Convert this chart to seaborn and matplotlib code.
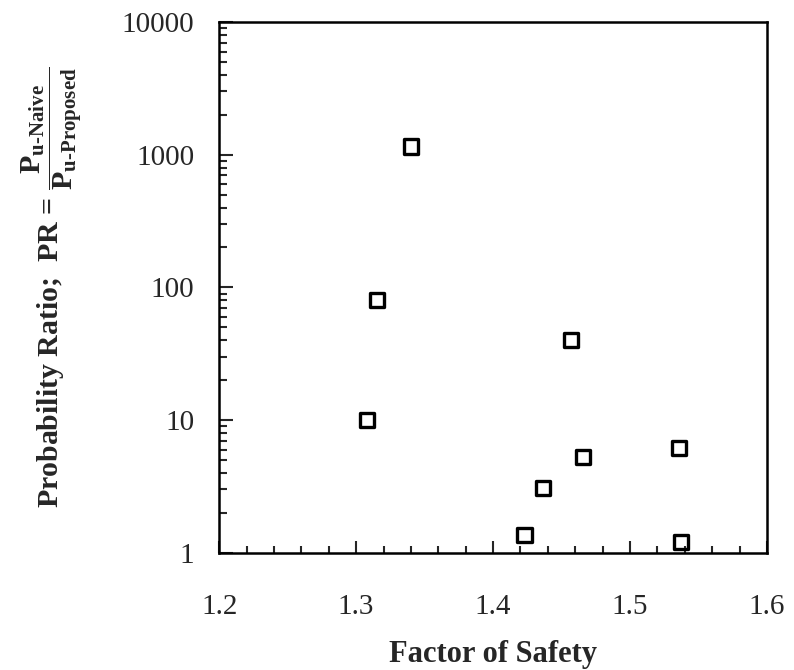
import numpy as np
import pandas as pd
import matplotlib
matplotlib.use("Agg")
import matplotlib.pyplot as plt
import matplotlib.ticker as mticker
import seaborn as sns

# values
factor_of_safety = [1.308, 1.3155, 1.340, 1.4229, 1.4366, 1.4567, 1.4658, 1.5358, 1.5372]
probability_ratio = [10.0, 80.0, 1155.0, 1.36, 3.07, 40.0, 5.27, 6.15, 1.2]
x_ticks = [1.2, 1.3, 1.4, 1.5, 1.6]
y_ticks = [1, 10, 100, 1000, 10000]

df = pd.DataFrame({'fos': factor_of_safety, 'pr': probability_ratio})

sns.set_style('ticks')
plt.rcParams['font.family'] = ['Liberation Serif', 'DejaVu Serif']
plt.rcParams['mathtext.fontset'] = 'custom'
plt.rcParams['mathtext.rm'] = 'Liberation Serif'
plt.rcParams['mathtext.bf'] = 'Liberation Serif:bold'
plt.rcParams['mathtext.it'] = 'Liberation Serif:italic'

fig = plt.figure(figsize=(7.94, 6.70), dpi=100)
ax = fig.add_axes([0.276, 0.175, 0.690, 0.792])

sns.scatterplot(data=df, x='fos', y='pr', ax=ax, marker='s', s=105,
                facecolor='none', edgecolor='black', linewidth=2.4, zorder=3)

ax.set_yscale('log')
ax.set_xlim(1.2, 1.6)
ax.set_ylim(1, 10000)
ax.set_xticks(x_ticks)
ax.set_yticks(y_ticks)
ax.xaxis.set_major_formatter(mticker.FuncFormatter(lambda v, p: f'{v:.1f}'))
ax.yaxis.set_major_formatter(mticker.FuncFormatter(lambda v, p: f'{v:g}'))
ax.xaxis.set_minor_locator(mticker.MultipleLocator(0.02))
ax.yaxis.set_minor_locator(mticker.LogLocator(base=10, subs=np.arange(2, 10)))
ax.yaxis.set_minor_formatter(mticker.NullFormatter())

ax.tick_params(which='both', direction='in', top=False, right=False,
               labelsize=21, width=1.5)
ax.tick_params(axis='x', which='major', length=9, pad=30)
ax.tick_params(axis='x', which='minor', length=5)
ax.tick_params(axis='y', which='major', length=10, pad=18)
ax.tick_params(axis='y', which='minor', length=6)
for sp in ax.spines.values():
    sp.set_linewidth(1.8)
    sp.set_color('black')

ax.set_xlabel('Factor of Safety', fontsize=22, fontweight='bold', labelpad=14)
ax.set_ylabel(r'Probability Ratio;  PR = $\mathbf{\dfrac{P_{u\text{-}Naive}}{P_{u\text{-}Proposed}}}$',
              fontsize=21.5, fontweight='bold')
ax.yaxis.set_label_coords(-0.245, 0.5)

fig.savefig('out.png', dpi=100)
